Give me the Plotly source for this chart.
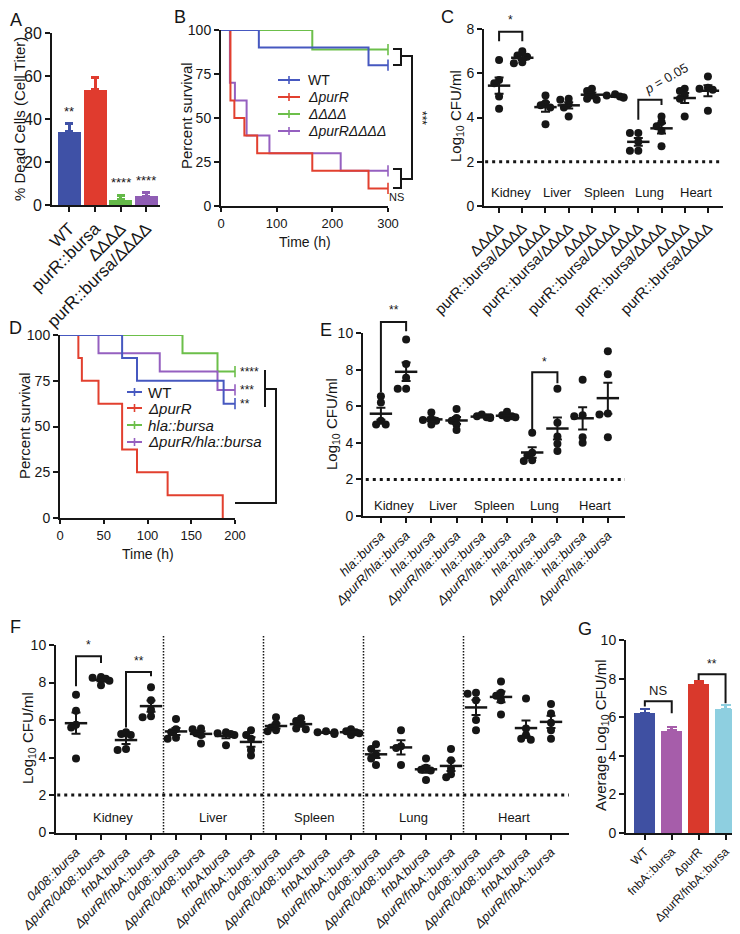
import numpy as np
import plotly.graph_objects as go

W, H = 740, 934
FONT = "Liberation Sans, Arial, Helvetica, sans-serif"
K = "#161616"

# ======================= DATA =======================
# Panel A - % dead cells (Cell Titer)
a_labels = ["WT", "purR::bursa", "ΔΔΔΔ", "purR::bursa/ΔΔΔΔ"]
a_mean = [34.0, 53.5, 2.5, 4.0]
a_sem = [3.8, 6.0, 2.0, 1.6]
a_stars = ["**", "", "****", "****"]
a_colors = ["#3F51A6", "#E03B2E", "#64B948", "#8F5DB4"]

# Panel B - survival (time h, percent survival)
b_names = ["WT", "<i>ΔpurR</i>", "<i>ΔΔΔΔ</i>", "<i>ΔpurRΔΔΔΔ</i>"]
b_colors = ["#4658C0", "#E2402F", "#6CBF4A", "#9560C0"]
b_wt_t = [0, 68, 265, 300]
b_wt_s = [100, 90, 80, 80]
b_purR_t = [0, 17, 24, 42, 65, 164, 265, 300]
b_purR_s = [100, 60, 50, 40, 30, 20, 10, 10]
b_quad_t = [0, 164, 300]
b_quad_s = [100, 88.9, 88.9]
b_pq_t = [0, 16, 25, 46, 87, 215, 300]
b_pq_s = [100, 70, 60, 40, 30, 20, 20]
b_ticks_x = [0, 100, 200, 300]
b_ticks_y = [0, 25, 50, 75, 100]

# Panel C - Log10 CFU/ml per organ
c_organs = ["Kidney", "Liver", "Spleen", "Lung", "Heart"]
c_strains = ["ΔΔΔΔ", "purR::bursa/ΔΔΔΔ"]
c_kidney_q = [6.6, 5.7, 5.55, 4.95, 4.4]
c_kidney_pq = [7.0, 6.8, 6.75, 6.5, 6.45]
c_liver_q = [5.0, 4.65, 4.55, 4.45, 3.7]
c_liver_pq = [4.85, 4.8, 4.6, 4.45, 4.05]
c_spleen_q = [5.3, 5.2, 5.0, 4.85, 4.8]
c_spleen_pq = [5.05, 5.0, 4.95, 4.9, 4.9]
c_lung_q = [3.3, 3.3, 2.9, 2.5, 2.5]
c_lung_pq = [4.05, 3.8, 3.6, 3.4, 2.7]
c_heart_q = [5.3, 5.2, 5.0, 4.85, 4.05]
c_heart_pq = [5.85, 5.35, 5.3, 5.25, 4.3]

# Panel D - survival
d_names = ["WT", "<i>ΔpurR</i>", "<i>hla::bursa</i>", "<i>ΔpurR/hla::bursa</i>"]
d_colors = ["#4658C0", "#E2402F", "#6CBF4A", "#9560C0"]
d_wt_t = [0, 71, 88, 187, 200]
d_wt_s = [100, 87.5, 75, 62.5, 62.5]
d_purR_t = [0, 21, 25, 44, 71, 88, 123, 186]
d_purR_s = [100, 87.5, 75, 62.5, 37.5, 25, 12.5, 0]
d_hla_t = [0, 140, 180, 200]
d_hla_s = [100, 90, 80, 80]
d_phla_t = [0, 44, 114, 180, 200]
d_phla_s = [100, 90, 80, 70, 70]
d_ticks_x = [0, 50, 100, 150, 200]
d_ticks_y = [0, 25, 50, 75, 100]

# Panel E
e_organs = ["Kidney", "Liver", "Spleen", "Lung", "Heart"]
e_strains = ["<i>hla::bursa</i>", "<i>ΔpurR/hla::bursa</i>"]
e_kidney_h = [6.55, 6.2, 5.2, 5.0, 5.0]
e_kidney_ph = [9.65, 8.3, 7.55, 6.95, 6.95]
e_liver_h = [5.65, 5.3, 5.25, 5.2, 5.0]
e_liver_ph = [5.85, 5.35, 5.2, 5.0, 4.7]
e_spleen_h = [5.55, 5.45, 5.4, 5.4, 5.35]
e_spleen_ph = [5.7, 5.5, 5.45, 5.4, 5.35]
e_lung_h = [4.55, 3.45, 3.3, 3.05, 3.0]
e_lung_ph = [6.95, 5.1, 4.35, 3.95, 3.55]
e_heart_h = [7.45, 5.5, 5.45, 4.3, 4.0]
e_heart_ph = [9.0, 7.75, 5.6, 5.55, 4.3]

# Panel F
f_organs = ["Kidney", "Liver", "Spleen", "Lung", "Heart"]
f_strains = ["<i>0408::bursa</i>", "<i>ΔpurR/0408::bursa</i>",
             "<i>fnbA:bursa</i>", "<i>ΔpurR/fnbA::bursa</i>"]
f_kidney = [[7.35, 6.5, 5.75, 5.6, 3.95], [8.3, 8.25, 8.2, 8.1, 7.85],
            [5.35, 5.25, 5.2, 4.45, 4.4], [7.75, 7.05, 6.55, 6.2, 6.15]]
f_liver = [[6.05, 5.5, 5.35, 5.05, 5.0], [5.55, 5.5, 5.3, 5.2, 4.75],
           [5.35, 5.3, 5.25, 5.2, 4.65], [5.45, 5.2, 5.0, 4.4, 4.1]]
f_spleen = [[6.15, 5.8, 5.6, 5.45, 5.4], [6.1, 5.95, 5.8, 5.55, 5.5],
            [5.4, 5.35, 5.35, 5.3, 5.25], [5.5, 5.4, 5.35, 5.3, 5.2]]
f_lung = [[4.7, 4.45, 4.15, 3.95, 3.6], [5.45, 4.6, 4.5, 3.6],
          [3.95, 3.45, 3.35, 3.3, 2.8], [4.45, 3.85, 3.4, 3.1, 2.95]]
f_heart = [[7.45, 7.4, 7.05, 6.0, 5.45], [8.05, 7.45, 7.3, 7.05, 6.3],
           [7.15, 5.55, 5.2, 5.0, 4.95], [6.85, 6.35, 5.85, 5.45, 5.0]]

# Panel G
g_labels = ["WT", "fnbA::bursa", "ΔpurR", "ΔpurR/fnbA::bursa"]
g_mean = [6.2, 5.3, 7.7, 6.4]
g_sem = [0.22, 0.2, 0.15, 0.22]
g_colors = ["#3F50A2", "#A65DAA", "#D9392C", "#8ECFE0"]

log_ticks8 = [0, 2, 4, 6, 8]
log_ticks10 = [0, 2, 4, 6, 8, 10]

# ======================= LAYOUT GEOMETRY =======================
PANELS = {
    "A": dict(ax="", xpx=(44, 152), ypx=(197, 25), xr=(-0.68, 3.53), yr=(0, 80)),
    "B": dict(ax="2", xpx=(213, 380), ypx=(198, 22), xr=(0, 300), yr=(0, 100)),
    "C": dict(ax="3", xpx=(476, 715), ypx=(198, 21), xr=(-0.65, 9.65), yr=(0, 8)),
    "D": dict(ax="4", xpx=(52, 227), ypx=(510, 327), xr=(0, 200), yr=(0, 100)),
    "E": dict(ax="5", xpx=(355, 617), ypx=(508, 325), xr=(-0.71, 9.68), yr=(0, 10)),
    "F": dict(ax="6", xpx=(48, 561), ypx=(824.5, 637), xr=(-0.8, 19.72), yr=(0, 10)),
    "G": dict(ax="7", xpx=(618, 731), ypx=(825, 632), xr=(-0.7, 3.5), yr=(0, 10)),
}


def P(pn, x, y):
    p = PANELS[pn]
    x0, x1 = p["xpx"]; yb, yt = p["ypx"]
    xr0, xr1 = p["xr"]; yr0, yr1 = p["yr"]
    px = x0 + (x - xr0) / (xr1 - xr0) * (x1 - x0)
    py = yb + (y - yr0) / (yr1 - yr0) * (yt - yb)
    return px / W, 1 - py / H


def PX(px, py):
    return px / W, 1 - py / H


def axid(pn):
    k = PANELS[pn]["ax"]
    return "x" + k, "y" + k


fig = go.Figure()
shapes, annots = [], []


def add_text(xy, s, size=13, angle=0, xanchor="center", yanchor="middle", color=K):
    annots.append(dict(x=xy[0], y=xy[1], xref="paper", yref="paper", text=s,
                       showarrow=False, textangle=angle, xanchor=xanchor,
                       yanchor=yanchor, font=dict(family=FONT, size=size, color=color)))


def add_path(pts, width=2, color=K, dash=None):
    path = "M " + " L ".join(f"{a:.5f},{b:.5f}" for a, b in pts)
    line = dict(color=color, width=width)
    if dash:
        line["dash"] = dash
    shapes.append(dict(type="path", path=path, xref="paper", yref="paper", line=line,
                       layer="above"))


def bracket(pn, x0, x1, ytop, yl, yr, width=2):
    add_path([P(pn, x0, yl), P(pn, x0, ytop), P(pn, x1, ytop), P(pn, x1, yr)], width)


def swarm(vals, ypu, d=6.0):
    order = sorted(range(len(vals)), key=lambda i: -vals[i])
    placed, offs = [], [0.0] * len(vals)
    for i in order:
        y = vals[i] * ypu
        xo = 0.0
        for c in (0, -0.8, 0.8, -1.4, 1.4):
            xo = c * d
            if all((xo - a) ** 2 + (y - b) ** 2 >= (0.85 * d) ** 2 for a, b in placed):
                break
        placed.append((xo, y))
        offs[i] = xo
    return offs


def dot_panel(pn, groups):
    xa, ya = axid(pn)
    p = PANELS[pn]
    xpu = (p["xpx"][1] - p["xpx"][0]) / (p["xr"][1] - p["xr"][0])
    ypu = (p["ypx"][0] - p["ypx"][1]) / (p["yr"][1] - p["yr"][0])
    for i, vals in enumerate(groups):
        offs = swarm(vals, ypu)
        xs = [i + o / xpu for o in offs]
        fig.add_trace(go.Scatter(x=xs, y=vals, mode="markers",
                                 marker=dict(size=8, color=K),
                                 xaxis=xa, yaxis=ya, showlegend=False,
                                 hoverinfo="skip", cliponaxis=False))
        m = float(np.mean(vals))
        se = float(np.std(vals, ddof=1) / np.sqrt(len(vals)))
        fig.add_trace(go.Scatter(x=[i], y=[m], mode="markers",
                                 marker=dict(symbol="line-ew", size=16,
                                             line=dict(width=2.5, color=K)),
                                 error_y=dict(type="data", array=[se], symmetric=True,
                                              color=K, thickness=2, width=4.5),
                                 xaxis=xa, yaxis=ya, showlegend=False,
                                 hoverinfo="skip", cliponaxis=False))


def surv(pn, t, s, color, censor=True):
    xa, ya = axid(pn)
    fig.add_trace(go.Scatter(x=t, y=s, mode="lines",
                             line=dict(color=color, width=2, shape="hv"),
                             xaxis=xa, yaxis=ya, showlegend=False,
                             hoverinfo="skip", cliponaxis=False))
    if censor:
        fig.add_trace(go.Scatter(x=[t[-1]], y=[s[-1]], mode="markers",
                                 marker=dict(symbol="line-ns", size=8,
                                             line=dict(width=1.6, color=color)),
                                 xaxis=xa, yaxis=ya, showlegend=False,
                                 hoverinfo="skip", cliponaxis=False))


def manual_legend(names, colors, x0, x1, xt, ys, size=14):
    for name, col, y in zip(names, colors, ys):
        add_path([PX(x0, y), PX(x1, y)], 2, col)
        xm = (x0 + x1) / 2
        add_path([PX(xm, y - 4), PX(xm, y + 4)], 1.6, col)
        add_text(PX(xt, y), name, size=size, xanchor="left")


# ======================= PANEL A =======================
xa, ya = axid("A")
for i in range(4):
    fig.add_trace(go.Bar(x=[i], y=[a_mean[i]], width=0.9,
                         marker=dict(color=a_colors[i], line=dict(width=0)),
                         error_y=dict(type="data", array=[a_sem[i]], arrayminus=[0],
                                      symmetric=False, color=a_colors[i],
                                      thickness=3, width=4),
                         xaxis=xa, yaxis=ya, showlegend=False, hoverinfo="skip"))
    if a_stars[i]:
        add_text(P("A", i, a_mean[i] + a_sem[i] + 1.5), a_stars[i], size=13, yanchor="bottom")

# ======================= PANEL B =======================
surv("B", b_quad_t, b_quad_s, b_colors[2])
surv("B", b_pq_t, b_pq_s, b_colors[3])
surv("B", b_purR_t, b_purR_s, b_colors[1])
surv("B", b_wt_t, b_wt_s, b_colors[0])
manual_legend(b_names, b_colors, 270, 292, 298, [72, 89, 106, 123])
add_path([PX(385, 41), PX(393, 41), PX(393, 57), PX(385, 57)], 2)
add_path([PX(385, 161), PX(393, 161), PX(393, 180), PX(385, 180)], 2)
add_path([PX(393, 48), PX(404, 48), PX(404, 171), PX(393, 171)], 2)
add_text(PX(414, 110), "***", size=12, angle=90)
add_text(PX(389, 189), "NS", size=11)
add_text(PX(297, 234), "Time (h)", size=14)

# ======================= PANEL C =======================
dot_panel("C", [c_kidney_q, c_kidney_pq, c_liver_q, c_liver_pq, c_spleen_q,
                c_spleen_pq, c_lung_q, c_lung_pq, c_heart_q, c_heart_pq])
add_path([P("C", -0.6, 2), P("C", 9.65, 2)], 3, K, "3px,4px")
for j, org in enumerate(c_organs):
    add_text(P("C", 2 * j + 0.5, 0.6), org, size=13)
bracket("C", 0, 1, 7.87, 7.45, 7.45)
add_text(P("C", 0.5, 8.0), "*", size=12, yanchor="bottom")
bracket("C", 6, 7, 4.8, 3.9, 4.57)
add_text(P("C", 7.2, 5.75), "<i>p</i> = 0.05", size=13, angle=-30)

# ======================= PANEL D =======================
surv("D", d_hla_t, d_hla_s, d_colors[2])
surv("D", d_phla_t, d_phla_s, d_colors[3])
surv("D", d_purR_t, d_purR_s, d_colors[1], censor=False)
surv("D", d_wt_t, d_wt_s, d_colors[0])
manual_legend(d_names, d_colors, 119, 134, 138, [384, 400, 417, 434], size=15)
add_text(P("D", 203, 80), "****", size=12, xanchor="left")
add_text(P("D", 203, 70), "***", size=12, xanchor="left")
add_text(P("D", 203, 62.5), "**", size=12, xanchor="left")
add_path([PX(257, 362), PX(257, 399)], 2)
add_path([PX(257, 381), PX(268, 381), PX(268, 495), PX(227, 495)], 2)
add_text(PX(140, 546), "Time (h)", size=14)

# ======================= PANEL E =======================
dot_panel("E", [e_kidney_h, e_kidney_ph, e_liver_h, e_liver_ph, e_spleen_h,
                e_spleen_ph, e_lung_h, e_lung_ph, e_heart_h, e_heart_ph])
add_path([P("E", -0.6, 2), P("E", 9.68, 2)], 3, K, "3px,4px")
for j, org in enumerate(e_organs):
    add_text(P("E", 2 * j + 0.5, 0.6), org, size=13)
bracket("E", 0, 1, 10.6, 6.75, 10.1)
add_text(P("E", 0.5, 10.75), "**", size=12, yanchor="bottom")
bracket("E", 6, 7, 7.85, 4.65, 7.25)
add_text(P("E", 6.5, 7.95), "*", size=12, yanchor="bottom")

# ======================= PANEL F =======================
f_groups = f_kidney + f_liver + f_spleen + f_lung + f_heart
dot_panel("F", f_groups)
add_path([P("F", -0.75, 2), P("F", 19.72, 2)], 3, K, "3px,4px")
for j in range(1, 5):
    add_path([P("F", 4 * j - 0.5, 0), P("F", 4 * j - 0.5, 10.5)], 1.5, K, "1.5px,1.5px")
for j, org in enumerate(f_organs):
    add_text(P("F", 4 * j + 1.5, 0.8), org, size=13)
bracket("F", 0, 1, 9.4, 7.8, 9.04)
add_text(P("F", 0.5, 9.5), "*", size=12, yanchor="bottom")
bracket("F", 2, 3, 8.56, 5.6, 8.33)
add_text(P("F", 2.5, 8.65), "**", size=12, yanchor="bottom")

# ======================= PANEL G =======================
xa, ya = axid("G")
for i in range(4):
    fig.add_trace(go.Bar(x=[i], y=[g_mean[i]], width=0.78,
                         marker=dict(color=g_colors[i], line=dict(width=0)),
                         error_y=dict(type="data", array=[g_sem[i]], arrayminus=[0],
                                      symmetric=False, color=g_colors[i],
                                      thickness=2.5, width=5),
                         xaxis=xa, yaxis=ya, showlegend=False, hoverinfo="skip"))
bracket("G", 0, 1, 6.82, 6.55, 6.2)
add_text(P("G", 0.5, 6.9), "NS", size=13, yanchor="bottom")
bracket("G", 2, 3, 8.22, 7.93, 6.72)
add_text(P("G", 2.5, 8.3), "**", size=12, yanchor="bottom")

# ======================= AXIS TITLES / PANEL LETTERS =======================
add_text(PX(11, 111), "% Dead Cells (Cell Titer)", size=15, angle=-90)
add_text(PX(179, 108), "Percent survival", size=15, angle=-90)
add_text(PX(449, 108), "Log<sub>10</sub> CFU/ml", size=15, angle=-90)
add_text(PX(16, 418), "Percent survival", size=15, angle=-90)
add_text(PX(324, 416), "Log<sub>10</sub> CFU/ml", size=15, angle=-90)
add_text(PX(20, 730), "Log<sub>10</sub> CFU/ml", size=15, angle=-90)
add_text(PX(593, 728), "Average Log<sub>10</sub> CFU/ml", size=15, angle=-90)
for lab, (lx, ly) in zip("ABCDEFG", [(8, 12), (172, 9), (439, 9), (7, 320),
                                      (318, 322), (7, 619), (577, 621)]):
    add_text(PX(lx, ly), lab, size=18)


# ======================= AXES =======================
def base_axis(size, ticklen=5):
    return dict(showline=True, linecolor=K, linewidth=2, ticks="outside", ticklen=ticklen,
                tickwidth=2, tickcolor=K, showgrid=False, zeroline=False,
                automargin=False,
                tickfont=dict(family=FONT, size=size, color=K), fixedrange=True)


layout_axes = {}
cat_ticks = {
    "A": (list(range(4)), a_labels, 17),
    "C": (list(range(10)), c_strains * 5, 15),
    "E": (list(range(10)), e_strains * 5, 13),
    "F": (list(range(20)), f_strains * 5, 13),
    "G": (list(range(4)), g_labels, 12),
}
num_x = {"B": b_ticks_x, "D": d_ticks_x}
y_ticks = {"A": [0, 20, 40, 60, 80], "B": b_ticks_y, "C": log_ticks8, "D": d_ticks_y,
           "E": log_ticks10, "F": log_ticks10, "G": log_ticks10}
y_size = {"A": 16, "B": 14, "C": 14, "D": 14, "E": 14, "F": 14, "G": 14}

for pn, p in PANELS.items():
    k = p["ax"]
    xd = [p["xpx"][0] / W, p["xpx"][1] / W]
    yd = [1 - p["ypx"][0] / H, 1 - p["ypx"][1] / H]
    if pn in cat_ticks:
        tv, tt, fs = cat_ticks[pn]
        xax = base_axis(fs)
        xax.update(tickmode="array", tickvals=tv, ticktext=tt, tickangle=-45)
    else:
        xax = base_axis(13, ticklen=4)
        xax.update(tickmode="array", tickvals=num_x[pn])
    xax.update(domain=xd, range=list(p["xr"]), anchor="y" + k)
    yax = base_axis(y_size[pn])
    yax.update(domain=yd, range=list(p["yr"]), anchor="x" + k,
               tickmode="array", tickvals=y_ticks[pn])
    layout_axes["xaxis" + k] = xax
    layout_axes["yaxis" + k] = yax

fig.update_layout(**layout_axes)
fig.update_layout(width=W, height=H, margin=dict(l=0, r=0, t=0, b=0, autoexpand=False),
                  paper_bgcolor="white", plot_bgcolor="white", showlegend=False,
                  shapes=shapes, annotations=annots, bargap=0,
                  font=dict(family=FONT, color=K))

fig.write_html("out.html")
